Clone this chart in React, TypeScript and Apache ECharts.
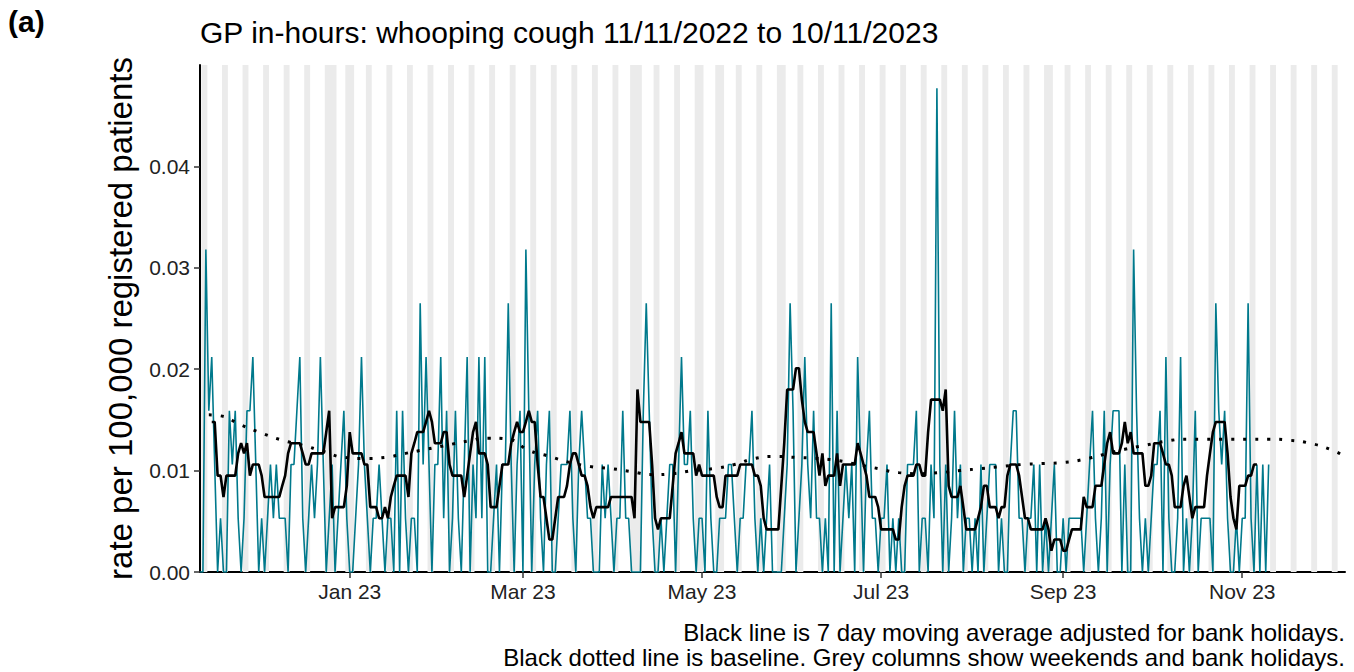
import React, { useEffect, useRef } from "react";
import * as echarts from "echarts";

const FONT = "'Liberation Sans', Arial, Helvetica, sans-serif";

// day index 0 = 11 Nov 2022
const START_UTC = Date.UTC(2022, 10, 11);
const AXIS_MAX_DAY = 390;

const titleText = "GP in-hours: whooping cough 11/11/2022 to 10/11/2023";
const panelLabel = "(a)";
const yAxisTitle = "rate per 100,000 registered patients";
const captionLine1 = "Black line is 7 day moving average adjusted for bank holidays.";
const captionLine2 = "Black dotted line is baseline. Grey columns show weekends and bank holidays.";

const xTickDays = [51, 110, 171, 232, 294, 355];
const xTickLabels = ["Jan 23", "Mar 23", "May 23", "Jul 23", "Sep 23", "Nov 23"];
const yTickValues = [0, 0.01, 0.02, 0.03, 0.04];
const yTickLabels = ["0.00", "0.01", "0.02", "0.03", "0.04"];

// bank holidays (day index): 26/27 Dec, 2 Jan, Good Friday, Easter Monday, 1 May, 8 May, 29 May, 28 Aug
const bankHolidayDays = [45, 46, 52, 147, 150, 171, 178, 199, 290];

// daily rate per 100,000 registered patients, 11/11/2022 .. 10/11/2023 (one row per week)
const dailyRate = [
  0, 0, 0.0318, 0.0159, 0.0212, 0.0106, 0,
  0.0053, 0, 0, 0.0159, 0.0106, 0.0159, 0.0053,
  0, 0.0053, 0.0159, 0.0159, 0.0212, 0.0106, 0,
  0.0053, 0, 0.0053, 0.0106, 0.0053, 0.0106, 0.0053,
  0.0053, 0.0053, 0, 0.0106, 0.0106, 0.0159, 0.0212,
  0.0053, 0, 0.0053, 0.0106, 0.0053, 0.0106, 0.0212,
  0.0106, 0, 0.0053, 0.0106, 0, 0.0053, 0.0106,
  0.0159, 0.0053, 0, 0, 0.0053, 0.0106, 0.0212,
  0.0106, 0.0053, 0, 0.0053, 0.0053, 0.0106, 0.0053,
  0, 0.0053, 0.0053, 0, 0.0159, 0, 0.0159,
  0.0053, 0, 0.0053, 0.0053, 0, 0.0265, 0.0106,
  0.0212, 0.0106, 0, 0.0106, 0.0106, 0.0212, 0.0053,
  0.0159, 0, 0.0053, 0.0159, 0.0053, 0, 0.0106,
  0.0212, 0, 0.0106, 0.0053, 0.0212, 0.0053, 0.0212,
  0, 0, 0.0053, 0.0106, 0, 0.0106, 0.0106,
  0.0265, 0.0106, 0, 0.0106, 0.0159, 0, 0.0318,
  0.0159, 0, 0.0106, 0.0159, 0.0053, 0, 0.0106,
  0.0159, 0, 0, 0.0053, 0.0106, 0.0106, 0.0106,
  0.0159, 0.0053, 0, 0.0106, 0.0159, 0.0106, 0.0053,
  0.0053, 0, 0, 0, 0.0106, 0.0053, 0.0106,
  0.0053, 0, 0.0053, 0.0053, 0.0159, 0.0053, 0.0053,
  0, 0, 0, 0, 0.0159, 0.0265, 0.0159,
  0.0053, 0, 0, 0.0053, 0, 0.0053, 0.0106,
  0.0106, 0, 0.0106, 0.0212, 0.0106, 0.0106, 0.0159,
  0.0053, 0, 0.0053, 0.0053, 0, 0.0159, 0.0053,
  0, 0, 0.0053, 0.0053, 0.0053, 0.0106, 0.0106,
  0.0053, 0, 0.0053, 0.0053, 0.0106, 0.0106, 0.0159,
  0.0053, 0, 0.0053, 0, 0.0053, 0.0106, 0,
  0, 0, 0, 0.0053, 0.0106, 0.0265, 0.0159,
  0, 0.0053, 0.0106, 0.0212, 0.0106, 0.0053, 0.0159,
  0.0053, 0.0053, 0, 0.0053, 0, 0.0265, 0,
  0.0159, 0, 0.0053, 0.0106, 0.0053, 0.0106, 0,
  0.0212, 0.0106, 0, 0.0106, 0.0159, 0.0053, 0.0053,
  0, 0.0053, 0.0053, 0.0106, 0, 0.0053, 0,
  0.0053, 0, 0, 0.0106, 0.0106, 0.0106, 0.0159,
  0, 0.0053, 0.0053, 0, 0.0106, 0.0053, 0.0477,
  0.0106, 0, 0.0106, 0, 0.0053, 0.0159, 0.0053,
  0.0106, 0, 0.0053, 0.0053, 0, 0.0053, 0,
  0.0106, 0, 0.0053, 0.0106, 0.0106, 0.0106, 0,
  0.0053, 0, 0, 0.0106, 0.0159, 0.0159, 0.0053,
  0.0053, 0, 0.0053, 0.0053, 0.0106, 0, 0.0106,
  0, 0.0053, 0, 0.0053, 0.0106, 0, 0,
  0.0053, 0, 0.0053, 0.0053, 0.0053, 0.0053, 0.0053,
  0, 0.0053, 0.0106, 0.0159, 0.0053, 0, 0.0053,
  0.0159, 0, 0.0106, 0.0159, 0.0159, 0.0159, 0,
  0.0106, 0, 0, 0.0318, 0.0159, 0.0053, 0,
  0.0053, 0, 0.0053, 0.0106, 0.0106, 0.0159, 0,
  0.0212, 0.0053, 0, 0, 0.0053, 0.0212, 0,
  0.0053, 0, 0.0053, 0.0159, 0, 0.0053, 0.0053,
  0.0053, 0.0053, 0, 0.0265, 0.0159, 0.0106, 0.0159,
  0.0053, 0, 0, 0.0053, 0, 0.0053, 0.0053,
  0.0265, 0.0053, 0, 0.0106, 0, 0.0106, 0,
  0.0106,
];

// 7 day moving average, first value on day index 4 (15/11/2022)
const movingAvgStartDay = 4;
const movingAvg = [
  0.0148, 0.0148, 0.0095, 0.0095, 0.0074, 0.0095, 0.0095,
  0.0095, 0.0095, 0.0117, 0.0127, 0.0117, 0.0127, 0.0095,
  0.0106, 0.0106, 0.0106, 0.0095, 0.0074, 0.0074, 0.0074,
  0.0074, 0.0074, 0.0074, 0.0085, 0.0095, 0.0117, 0.0127,
  0.0127, 0.0127, 0.0127, 0.0117, 0.0106, 0.0106, 0.0117,
  0.0117, 0.0117, 0.0117, 0.0117, 0.0138, 0.0159, 0.0053,
  0.0064, 0.0064, 0.0064, 0.0064, 0.0085, 0.0138, 0.0117,
  0.0117, 0.0117, 0.0117, 0.0106, 0.0106, 0.0064, 0.0064,
  0.0064, 0.0053, 0.0053, 0.0064, 0.0053, 0.0074, 0.0085,
  0.0095, 0.0095, 0.0095, 0.0095, 0.0074, 0.0117, 0.0127,
  0.0138, 0.0138, 0.0138, 0.0148, 0.0159, 0.0148, 0.0127,
  0.0127, 0.0127, 0.0138, 0.0138, 0.0106, 0.0095, 0.0095,
  0.0095, 0.0095, 0.0074, 0.0095, 0.0117, 0.0138, 0.0148,
  0.0117, 0.0117, 0.0117, 0.0106, 0.0064, 0.0064, 0.0064,
  0.0085, 0.0106, 0.0106, 0.0106, 0.0127, 0.0138, 0.0148,
  0.0138, 0.0138, 0.0148, 0.0159, 0.0148, 0.0148, 0.0106,
  0.0074, 0.0074, 0.0053, 0.0032, 0.0032, 0.0053, 0.0074,
  0.0074, 0.0074, 0.0085, 0.0106, 0.0117, 0.0117, 0.0106,
  0.0095, 0.0095, 0.0085, 0.0064, 0.0053, 0.0064, 0.0064,
  0.0064, 0.0064, 0.0064, 0.0074, 0.0074, 0.0074, 0.0074,
  0.0074, 0.0074, 0.0074, 0.0074, 0.0053, 0.0180, 0.0148,
  0.0148, 0.0148, 0.0148, 0.0106, 0.0053, 0.0042, 0.0053,
  0.0053, 0.0053, 0.0053, 0.0085, 0.0117, 0.0127, 0.0138,
  0.0117, 0.0117, 0.0117, 0.0117, 0.0095, 0.0106, 0.0095,
  0.0095, 0.0095, 0.0095, 0.0095, 0.0074, 0.0064, 0.0064,
  0.0095, 0.0095, 0.0095, 0.0095, 0.0095, 0.0106, 0.0106,
  0.0106, 0.0106, 0.0106, 0.0095, 0.0095, 0.0085, 0.0053,
  0.0042, 0.0042, 0.0042, 0.0042, 0.0042, 0.0085, 0.0127,
  0.0180, 0.0180, 0.0180, 0.0201, 0.0201, 0.0170, 0.0148,
  0.0138, 0.0138, 0.0138, 0.0117, 0.0095, 0.0117, 0.0085,
  0.0095, 0.0095, 0.0095, 0.0117, 0.0085, 0.0106, 0.0106,
  0.0106, 0.0106, 0.0106, 0.0127, 0.0117, 0.0106, 0.0095,
  0.0074, 0.0074, 0.0074, 0.0064, 0.0042, 0.0042, 0.0042,
  0.0042, 0.0042, 0.0032, 0.0032, 0.0064, 0.0085, 0.0095,
  0.0095, 0.0095, 0.0106, 0.0106, 0.0095, 0.0095, 0.0138,
  0.0170, 0.0170, 0.0170, 0.0170, 0.0159, 0.0180, 0.0085,
  0.0074, 0.0074, 0.0074, 0.0085, 0.0064, 0.0042, 0.0042,
  0.0042, 0.0042, 0.0053, 0.0064, 0.0085, 0.0085, 0.0064,
  0.0064, 0.0064, 0.0053, 0.0064, 0.0064, 0.0095, 0.0106,
  0.0106, 0.0106, 0.0095, 0.0074, 0.0053, 0.0053, 0.0042,
  0.0042, 0.0042, 0.0042, 0.0042, 0.0053, 0.0042, 0.0021,
  0.0032, 0.0032, 0.0032, 0.0021, 0.0021, 0.0032, 0.0042,
  0.0042, 0.0042, 0.0042, 0.0074, 0.0064, 0.0064, 0.0064,
  0.0085, 0.0085, 0.0085, 0.0106, 0.0127, 0.0138, 0.0117,
  0.0117, 0.0117, 0.0127, 0.0148, 0.0127, 0.0138, 0.0117,
  0.0117, 0.0117, 0.0117, 0.0085, 0.0085, 0.0095, 0.0127,
  0.0127, 0.0127, 0.0117, 0.0106, 0.0106, 0.0095, 0.0064,
  0.0064, 0.0064, 0.0085, 0.0095, 0.0074, 0.0053, 0.0064,
  0.0064, 0.0064, 0.0064, 0.0095, 0.0117, 0.0138, 0.0148,
  0.0148, 0.0148, 0.0148, 0.0117, 0.0074, 0.0053, 0.0042,
  0.0085, 0.0085, 0.0085, 0.0095, 0.0095, 0.0106, 0.0106,
];

// baseline, read weekly
const baselineDays = [
  3, 7, 14, 21, 28, 35, 42, 49, 56, 63, 70, 77, 84, 91, 98, 105, 112, 119, 126, 133,
  140, 147, 154, 161, 168, 175, 182, 189, 196, 203, 210, 217, 224, 231, 238, 245, 252, 259, 266, 273,
  280, 287, 294, 301, 308, 315, 322, 329, 336, 343, 350, 357, 364, 371, 378, 385, 390,
];
const baselineRate = [
  0.0155, 0.0154, 0.0145, 0.0137, 0.0130, 0.0125, 0.0119, 0.0113, 0.0112, 0.0113,
  0.0117, 0.0121, 0.0125, 0.0129, 0.0132, 0.0131, 0.0120, 0.0114, 0.0108, 0.0104,
  0.0102, 0.0099, 0.0096, 0.0097, 0.0100, 0.0102, 0.0106, 0.0112, 0.0114, 0.0113,
  0.0112, 0.0110, 0.0106, 0.0102, 0.0098, 0.0097, 0.0098, 0.0100, 0.0102, 0.0104,
  0.0106, 0.0107, 0.0108, 0.0111, 0.0116, 0.0121, 0.0125, 0.0129, 0.0131, 0.0131,
  0.0131, 0.0131, 0.0131, 0.0130, 0.0127, 0.0121, 0.0114,
];

function isGreyDay(d: number): boolean {
  const dow = new Date(START_UTC + d * 86400000).getUTCDay();
  return dow === 0 || dow === 6 || bankHolidayDays.indexOf(d) >= 0;
}

function greyColumns() {
  const out: any[] = [];
  let d = 0;
  while (d <= AXIS_MAX_DAY) {
    if (isGreyDay(d)) {
      let e = d;
      while (e + 1 <= AXIS_MAX_DAY && isGreyDay(e + 1)) e++;
      out.push([{ xAxis: Math.max(0, d - 0.5) }, { xAxis: Math.min(AXIS_MAX_DAY, e + 0.5) }]);
      d = e + 1;
    } else d++;
  }
  return out;
}

export default function App() {
  const ref = useRef<HTMLDivElement>(null);
  useEffect(() => {
    if (!ref.current) return;
    const chart = echarts.init(ref.current, null, { renderer: "svg" });
    const tickLabelMap: Record<number, string> = {};
    xTickDays.forEach((d, i) => (tickLabelMap[d] = xTickLabels[i]));
    const option: any = {
      animation: false,
      backgroundColor: "#ffffff",
      textStyle: { fontFamily: FONT },
      title: {
        text: titleText,
        left: 200,
        top: 17,
        padding: 0,
        textStyle: { fontSize: 30, fontWeight: "normal", color: "#000", fontFamily: FONT },
      },
      graphic: [
        {
          type: "text",
          left: 8,
          top: 6,
          style: { text: panelLabel, font: `bold 30px ${FONT}`, fill: "#000" },
        },
        {
          type: "text",
          right: 9,
          top: 620,
          style: { text: captionLine1, font: `24px ${FONT}`, fill: "#000" },
        },
        {
          type: "text",
          right: 9,
          top: 645,
          style: { text: captionLine2, font: `24px ${FONT}`, fill: "#000" },
        },
      ],
      grid: { left: 200, right: 9, top: 65, bottom: 100, containLabel: false },
      xAxis: {
        type: "value",
        min: 0,
        max: AXIS_MAX_DAY,
        axisLine: { show: true, onZero: false, lineStyle: { color: "#000", width: 2 } },
        axisTick: { show: true, customValues: xTickDays, length: 6, lineStyle: { color: "#333", width: 1.5 } },
        axisLabel: {
          customValues: xTickDays,
          formatter: (v: number) => tickLabelMap[Math.round(v)] ?? "",
          fontSize: 21,
          color: "#222",
          margin: 9,
          fontFamily: FONT,
        },
        splitLine: { show: false },
      },
      yAxis: {
        type: "value",
        min: 0,
        max: 0.05,
        name: yAxisTitle,
        nameLocation: "middle",
        nameGap: 63,
        nameTextStyle: { fontSize: 33, color: "#000", fontFamily: FONT },
        axisLine: { show: true, lineStyle: { color: "#000", width: 2 } },
        axisTick: { show: true, customValues: yTickValues, length: 6, lineStyle: { color: "#333", width: 1.5 } },
        axisLabel: {
          customValues: yTickValues,
          formatter: (v: number) => {
            const i = yTickValues.findIndex((t) => Math.abs(t - v) < 1e-9);
            return i >= 0 ? yTickLabels[i] : "";
          },
          fontSize: 21,
          color: "#222",
          margin: 10,
          fontFamily: FONT,
        },
        splitLine: { show: false },
      },
      series: [
        {
          type: "line",
          name: "daily rate",
          data: dailyRate.map((v, i) => [i, v]),
          showSymbol: false,
          symbol: "none",
          lineStyle: { color: "#00798c", width: 1.6 },
          z: 2,
          markArea: {
            silent: true,
            z: 1,
            itemStyle: { color: "#ebebeb", borderWidth: 0 },
            data: greyColumns(),
          },
        },
        {
          type: "line",
          name: "baseline",
          data: baselineDays.map((d, i) => [d, baselineRate[i]]),
          smooth: true,
          showSymbol: false,
          symbol: "none",
          lineStyle: { color: "#000", width: 3, type: [3, 9] },
          z: 3,
        },
        {
          type: "line",
          name: "7 day moving average",
          data: movingAvg.map((v, i) => [i + movingAvgStartDay, v]),
          showSymbol: false,
          symbol: "none",
          lineStyle: { color: "#000", width: 2.6 },
          z: 4,
        },
      ],
    };
    chart.setOption(option);
    return () => chart.dispose();
  }, []);
  return (
    <div
      ref={ref}
      style={{ position: "absolute", left: 0, top: 0, width: 1354, height: 672, background: "#fff" }}
    />
  );
}
